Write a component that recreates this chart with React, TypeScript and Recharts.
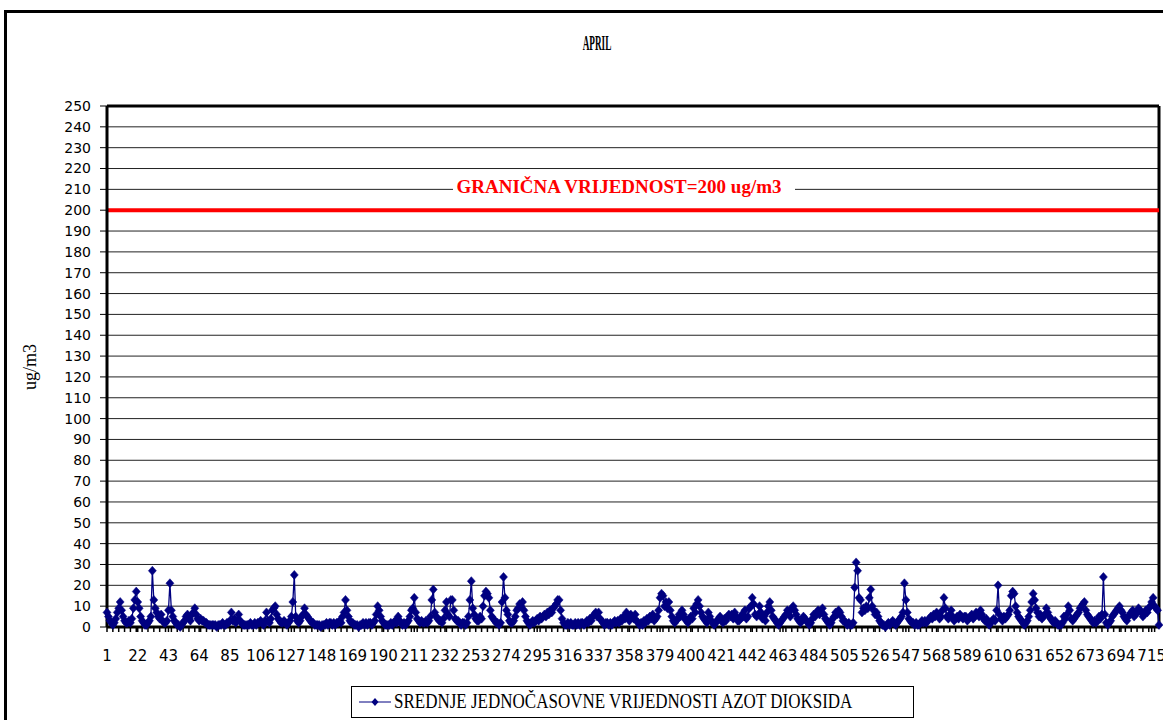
import { LineChart, Line, XAxis, YAxis, CartesianGrid, ReferenceLine } from "recharts";

// hourly NO2 averages for April (1..720)
const no2 = [
  7, 5, 3, 2, 1, 2, 4, 7, 9, 12, 8, 5, 3, 2, 2, 3, 2, 4, 9, 13, 17, 12, 9, 5,
  3, 2, 1, 1, 2, 3, 5, 27, 13, 9, 7, 5, 4, 6, 3, 2, 2, 3, 8, 21, 8, 5, 3, 2,
  1, 1, 0, 1, 2, 3, 5, 6, 4, 3, 6, 7, 9, 6, 4, 3, 4, 3, 3, 2, 2, 1, 1, 1,
  1, 1, 1, 0, 1, 1, 1, 2, 1, 1, 2, 2, 3, 7, 3, 4, 2, 3, 6, 3, 2, 1, 1, 1,
  1, 1, 2, 1, 1, 2, 1, 2, 2, 3, 2, 1, 3, 7, 3, 2, 4, 8, 9, 10, 6, 4, 3, 2,
  2, 3, 2, 1, 2, 3, 5, 12, 25, 5, 3, 2, 3, 5, 6, 9, 6, 5, 4, 3, 2, 2, 1, 1,
  1, 1, 0, 1, 1, 1, 2, 1, 2, 2, 1, 2, 1, 2, 2, 3, 2, 5, 7, 13, 8, 5, 3, 2,
  2, 1, 1, 1, 0, 1, 1, 2, 1, 2, 1, 2, 2, 1, 2, 3, 6, 10, 8, 5, 3, 2, 1, 1,
  1, 1, 2, 1, 2, 3, 2, 5, 3, 2, 1, 2, 1, 2, 3, 5, 8, 9, 14, 7, 4, 3, 2, 3,
  2, 2, 3, 2, 3, 5, 13, 18, 7, 5, 4, 3, 3, 2, 4, 8, 12, 6, 5, 13, 13, 8, 4, 3,
  3, 2, 1, 2, 2, 1, 2, 5, 13, 22, 9, 6, 4, 3, 3, 5, 4, 10, 15, 17, 16, 14, 8, 5,
  4, 3, 2, 2, 1, 2, 12, 24, 14, 8, 6, 3, 2, 2, 3, 5, 8, 9, 11, 10, 12, 8, 5, 3,
  2, 1, 2, 3, 2, 3, 4, 3, 5, 4, 5, 6, 5, 7, 6, 8, 7, 9, 10, 11, 13, 13, 8, 4,
  2, 1, 1, 2, 1, 2, 1, 1, 2, 1, 2, 1, 2, 2, 1, 2, 3, 2, 4, 3, 5, 6, 7, 5,
  7, 4, 3, 2, 1, 2, 2, 1, 2, 1, 2, 3, 2, 3, 2, 4, 3, 5, 4, 7, 5, 3, 6, 5,
  4, 6, 3, 2, 1, 2, 1, 3, 2, 4, 3, 5, 4, 6, 3, 4, 5, 8, 14, 16, 15, 10, 12, 9,
  12, 8, 5, 3, 2, 3, 4, 6, 5, 8, 6, 4, 3, 2, 4, 5, 4, 9, 7, 11, 13, 10, 7, 5,
  4, 3, 2, 7, 5, 3, 2, 1, 2, 3, 4, 5, 3, 2, 4, 3, 5, 6, 5, 6, 4, 7, 5, 3,
  3, 4, 6, 5, 8, 4, 5, 9, 10, 14, 11, 6, 5, 6, 10, 7, 4, 5, 3, 7, 10, 12, 8, 5,
  4, 3, 2, 1, 2, 3, 4, 5, 6, 8, 7, 5, 9, 10, 8, 6, 4, 3, 2, 3, 5, 4, 3, 2,
  1, 2, 4, 6, 5, 7, 8, 6, 7, 9, 6, 4, 3, 2, 1, 2, 4, 5, 7, 6, 8, 7, 5, 3,
  3, 2, 1, 2, 1, 1, 2, 19, 31, 27, 14, 13, 7, 9, 8, 10, 9, 14, 18, 10, 8, 6, 7, 5,
  3, 2, 1, 1, 0, 1, 2, 1, 2, 3, 2, 1, 2, 3, 4, 5, 7, 21, 13, 7, 4, 3, 2, 2,
  1, 2, 1, 1, 2, 3, 2, 3, 2, 3, 4, 5, 4, 6, 5, 7, 6, 4, 5, 8, 14, 9, 5, 4,
  6, 8, 5, 3, 4, 5, 4, 6, 5, 4, 5, 5, 3, 4, 5, 6, 4, 5, 7, 6, 5, 8, 6, 4,
  3, 4, 2, 1, 2, 3, 4, 3, 8, 20, 6, 4, 3, 5, 4, 5, 6, 8, 15, 17, 16, 10, 7, 5,
  4, 3, 2, 1, 2, 3, 5, 8, 12, 16, 13, 9, 7, 5, 6, 4, 5, 6, 9, 7, 5, 4, 3, 2,
  3, 2, 1, 1, 1, 2, 5, 4, 6, 10, 8, 4, 3, 4, 5, 6, 7, 9, 10, 11, 12, 8, 6, 5,
  4, 3, 2, 3, 2, 3, 5, 4, 6, 24, 6, 2, 1, 2, 3, 5, 6, 7, 8, 9, 10, 8, 7, 5,
  4, 3, 5, 6, 7, 8, 5, 6, 7, 9, 8, 7, 5, 6, 8, 7, 9, 10, 12, 14, 10, 9, 8, 1,
];

const xLabels = [
  1, 22, 43, 64, 85, 106, 127, 148, 169, 190, 211, 232, 253, 274, 295, 316, 337, 358,
  379, 400, 421, 442, 463, 484, 505, 526, 547, 568, 589, 610, 631, 652, 673, 694, 715,
];
const yTicks = [
  0, 10, 20, 30, 40, 50, 60, 70, 80, 90, 100, 110, 120, 130, 140, 150, 160, 170, 180,
  190, 200, 210, 220, 230, 240, 250,
];
const LIMIT = 200;
const LIMIT_LABEL = "GRANIČNA VRIJEDNOST=200 ug/m3";
const SERIES_NAME = "SREDNJE JEDNOČASOVNE VRIJEDNOSTI AZOT DIOKSIDA";

const NAVY = "#000080";
const SERIF = "'Liberation Serif', 'Times New Roman', serif";
const SANS = "'DejaVu Sans', Verdana, sans-serif";

const data = no2.map((v, i) => ({ h: i + 1, v }));

// minor tick marks every 4 hours, plus the labelled ones
const minorTicks = Array.from({ length: 180 }, (_, i) => 1 + i * 4);
const xTicks = Array.from(new Set([...minorTicks, ...xLabels])).sort((a, b) => a - b);

function HourTick(props: any) {
  const { x, y, payload } = props;
  if (!xLabels.includes(payload.value)) return <g />;
  return (
    <text x={x} y={y} dy={27} textAnchor="middle" fontFamily={SANS} fontSize={15} fill="#000">
      {payload.value}
    </text>
  );
}

function diamond(props: any) {
  const { cx, cy, index } = props;
  if (cx == null || cy == null) return <g key={`d-${index}`} />;
  return (
    <path
      key={`d-${index}`}
      d={`M${cx},${cy - 4.5} L${cx + 4},${cy} L${cx},${cy + 4.5} L${cx - 4},${cy} Z`}
      fill={NAVY}
      stroke={NAVY}
      strokeWidth={0.5}
    />
  );
}

function LimitLabel(props: any) {
  const { viewBox } = props;
  const cx = viewBox.x + 512;
  const base = viewBox.y - 17;
  return (
    <g>
      <rect x={viewBox.x + 346} y={base - 14} width={342} height={18} fill="#fff" />
      <text
        x={cx}
        y={base}
        textAnchor="middle"
        fontFamily={SERIF}
        fontWeight="bold"
        fontSize={19}
        fill="#ff0000"
      >
        {LIMIT_LABEL}
      </text>
    </g>
  );
}

export default function App() {
  return (
    <div
      style={{
        position: "absolute",
        left: 0,
        top: 0,
        width: 1163,
        height: 720,
        background: "#fff",
        overflow: "hidden",
      }}
    >
      {/* outer chart frame */}
      <div
        style={{
          position: "absolute",
          left: 4,
          top: 10,
          width: 1170,
          height: 760,
          border: "3px solid #000",
          boxSizing: "border-box",
        }}
      />
      <div
        style={{
          position: "absolute",
          left: 597,
          top: 33,
          transform: "translateX(-50%) scaleX(0.46)",
          fontFamily: SERIF,
          fontWeight: "bold",
          fontSize: 20,
          lineHeight: "20px",
          whiteSpace: "nowrap",
        }}
      >
        APRIL
      </div>
      <div
        style={{
          position: "absolute",
          left: 30,
          top: 367,
          transform: "translate(-50%, -50%) rotate(-90deg)",
          fontFamily: SERIF,
          fontSize: 18,
          whiteSpace: "nowrap",
        }}
      >
        ug/m3
      </div>

      <div style={{ position: "absolute", left: 0, top: 0 }}>
        <LineChart
          width={1163}
          height={720}
          data={data}
          margin={{ top: 106, right: 4, bottom: 63, left: 47 }}
        >
          <CartesianGrid horizontal vertical={false} stroke="#222" strokeWidth={1} />
          <XAxis
            dataKey="h"
            type="number"
            domain={[1, 720]}
            ticks={xTicks}
            interval={0}
            tick={<HourTick />}
            tickSize={5}
            tickLine={{ stroke: "#000", strokeWidth: 1.5 }}
            axisLine={{ stroke: "#000", strokeWidth: 3 }}
            height={30}
          />
          <YAxis
            type="number"
            domain={[0, 250]}
            ticks={yTicks}
            interval={0}
            width={60}
            tickSize={7}
            tickMargin={9}
            tickLine={{ stroke: "#000" }}
            axisLine={{ stroke: "#000", strokeWidth: 3 }}
            tick={{ fontFamily: SANS, fontSize: 14, fill: "#000" }}
          />
          <ReferenceLine y={250} stroke="#000" strokeWidth={3} />
          <ReferenceLine x={720} stroke="#000" strokeWidth={3} />
          <ReferenceLine y={LIMIT} stroke="#ff0000" strokeWidth={4} label={<LimitLabel />} />
          <Line
            dataKey="v"
            stroke={NAVY}
            strokeWidth={1.3}
            dot={diamond}
            activeDot={false}
            isAnimationActive={false}
          />
        </LineChart>
      </div>

      {/* legend */}
      <div
        style={{
          position: "absolute",
          left: 351,
          top: 686,
          width: 563,
          height: 32,
          border: "1px solid #000",
          boxSizing: "border-box",
          background: "#fff",
          display: "flex",
          alignItems: "center",
        }}
      >
        <svg width={40} height={30} style={{ marginLeft: 6, flexShrink: 0 }}>
          <line x1={1} y1={15} x2={33} y2={15} stroke={NAVY} strokeWidth={1} />
          <path d="M17,11 L20.5,15 L17,19 L13.5,15 Z" fill={NAVY} />
        </svg>
        <span
          style={{
            fontFamily: SERIF,
            fontSize: 17,
            whiteSpace: "nowrap",
            marginLeft: -4,
            display: "inline-block",
            transform: "scaleY(1.2)",
          }}
        >
          {SERIES_NAME}
        </span>
      </div>
    </div>
  );
}
